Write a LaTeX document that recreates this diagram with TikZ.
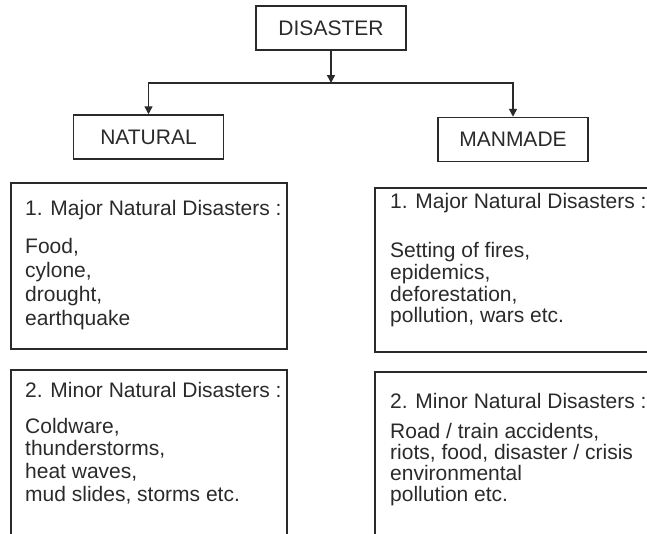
\documentclass[tikz,border=0pt]{standalone}
\usepackage{fontspec}
\setmainfont{Liberation Sans}
\usetikzlibrary{positioning, arrows.meta}
\definecolor{ink}{HTML}{2A2A2A}

\begin{document}
\begin{tikzpicture}[x=1pt, y=-1pt]
  \newcommand\bodyfont{\fontsize{21}{24}\selectfont}
  \newcommand\boxlw{1.5pt}

  \tikzset{catbox/.style={draw=ink, line width=\boxlw, text=ink, font=\bodyfont, minimum width=150, minimum height=44, inner sep=0pt}}
  \tikzset{panel/.style={draw=ink, line width=\boxlw, inner sep=0pt}}
  \tikzset{txt/.style={text=ink, font=\bodyfont, inner sep=0pt, anchor=base west}}
  \tikzset{ptr/.style={draw=ink, line width=\boxlw, -{Triangle[length=8pt, width=8pt]}}}

  \useasboundingbox (0,0) rectangle (647,533);

  % categories
  \node[catbox] at (331, 28) (disaster) {DISASTER};
  \node[catbox] at (148.5, 137) (natural) {NATURAL};
  \node[catbox] at (513, 139.5) (manmade) {MANMADE};

  \coordinate (split) at (331, 83);
  \draw[ptr] (disaster) -- (split);
  \draw[ptr] (split) -| (natural);
  \draw[ptr] (split) -| (manmade);

  % panels
  \node[panel, minimum width=276, minimum height=166] at (149, 266) (l1) {};
  \node[panel, minimum width=276, minimum height=190] at (149, 465) (l2) {};
  \node[panel, minimum width=305, minimum height=164] at (527.5, 270) (r1) {};
  \node[panel, minimum width=305, minimum height=188] at (527.5, 466) (r2) {};

  % natural
  \node[txt] at (25, 215) (l1-head) {1. Major Natural Disasters :};
  \foreach \txt [count=\i from 0] in {{Food,}, {cylone,}, {drought,}, {earthquake}}{
    \node[txt] at (25, {253+24*\i}) (l1-\i) {\txt};
  }
  \node[txt] at (25, 397) (l2-head) {2. Minor Natural Disasters :};
  \foreach \txt [count=\i from 0] in {{Coldware,}, {thunderstorms,}, {heat waves,}, {mud slides, storms etc.}}{
    \node[txt] at (25, {433+22.8*\i}) (l2-\i) {\txt};
  }

  % manmade
  \node[txt] at (390, 208) (r1-head) {1. Major Natural Disasters :};
  \foreach \txt [count=\i from 0] in {{Setting of fires,}, {epidemics,}, {deforestation,}, {pollution, wars etc.}}{
    \node[txt] at (390, {257.5+21.8*\i}) (r1-\i) {\txt};
  }
  \node[txt] at (390, 408) (r2-head) {2. Minor Natural Disasters :};
  \foreach \txt [count=\i from 0] in {{Road / train accidents,}, {riots, food, disaster / crisis}, {environmental}, {pollution etc.}}{
    \node[txt] at (390, {438+21.2*\i}) (r2-\i) {\txt};
  }
\end{tikzpicture}
\end{document}
